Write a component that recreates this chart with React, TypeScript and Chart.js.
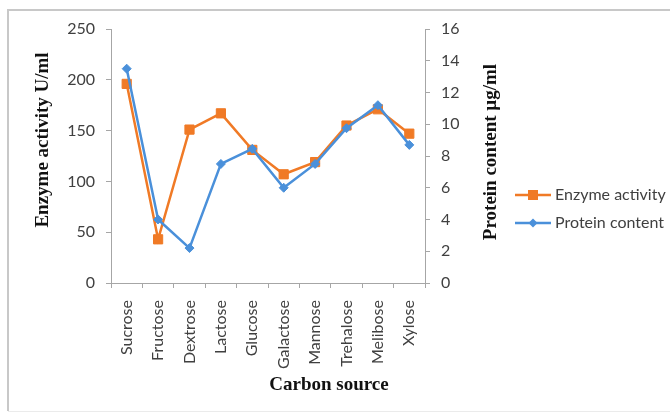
import React, { useEffect, useRef } from 'react';
import { Chart, registerables } from 'chart.js';

Chart.register(...registerables);

const categories = ['Sucrose', 'Fructose', 'Dextrose', 'Lactose', 'Glucose', 'Galactose', 'Mannose', 'Trehalose', 'Melibose', 'Xylose'];
const enzymeActivity = [196, 43, 151, 167, 131, 107, 119, 155, 171, 147];
const proteinContent = [13.5, 4.0, 2.2, 7.5, 8.45, 6.0, 7.5, 9.75, 11.2, 8.7];
const enzymeAxisMax = 250;
const enzymeAxisStep = 50;
const proteinAxisMax = 16;
const proteinAxisStep = 2;
const seriesNames = ['Enzyme activity', 'Protein content'];
const xTitle = 'Carbon source';
const yTitle = 'Enzyme activity U/ml';
const y1Title = 'Protein content µg/ml';

const ORANGE = '#F07A26';
const BLUE = '#4A90DA';
const AXIS = '#A6A6A6';
const TICK = '#404040';
const SANS = 'Lato, "Liberation Sans", sans-serif';
const SERIF = '"Liberation Serif", "DejaVu Serif", serif';

const decorPlugin = {
  id: 'decor',
  afterDraw(chart: any) {
    const ctx = chart.ctx as CanvasRenderingContext2D;
    const area = chart.chartArea;
    ctx.save();
    // outer frame
    ctx.strokeStyle = '#C8C8C8';
    ctx.lineWidth = 2;
    ctx.beginPath();
    ctx.moveTo(8, 411);
    ctx.lineTo(8, 10);
    ctx.lineTo(670, 10);
    ctx.stroke();
    ctx.strokeStyle = '#EBEBEB';
    ctx.lineWidth = 1;
    ctx.beginPath();
    ctx.moveTo(8, 411.5);
    ctx.lineTo(670, 411.5);
    ctx.stroke();

    // axis titles
    ctx.fillStyle = '#111';
    ctx.font = `bold 19px ${SERIF}`;
    ctx.textAlign = 'center';
    ctx.textBaseline = 'middle';
    ctx.fillText(xTitle, area.left + 218, area.bottom + 102);
    ctx.save();
    ctx.translate(area.left - 68, area.top + 111);
    ctx.rotate(-Math.PI / 2);
    ctx.fillText(yTitle, 0, 0);
    ctx.restore();
    ctx.save();
    ctx.translate(area.right + 66, area.top + 123);
    ctx.rotate(-Math.PI / 2);
    ctx.fillText(y1Title, 0, 0);
    ctx.restore();

    // legend
    const items = chart.data.datasets;
    const lx = 515;
    const ys = [195, 223];
    items.forEach((ds: any, i: number) => {
      const y = ys[i];
      ctx.strokeStyle = ds.borderColor;
      ctx.lineWidth = 2.5;
      ctx.beginPath();
      ctx.moveTo(lx, y);
      ctx.lineTo(lx + 36, y);
      ctx.stroke();
      ctx.fillStyle = ds.borderColor;
      const cx = lx + 18;
      if (ds.pointStyle === 'rect') {
        ctx.fillRect(cx - 5, y - 5, 10, 10);
      } else {
        ctx.beginPath();
        ctx.moveTo(cx - 4.5, y);
        ctx.lineTo(cx, y - 4.5);
        ctx.lineTo(cx + 4.5, y);
        ctx.lineTo(cx, y + 4.5);
        ctx.closePath();
        ctx.fill();
      }
      ctx.fillStyle = TICK;
      ctx.font = `16px ${SANS}`;
      ctx.textAlign = 'left';
      ctx.textBaseline = 'middle';
      ctx.fillText(ds.label, lx + 40, y);
    });
    ctx.restore();
  },
};

export default function App() {
  const ref = useRef<HTMLCanvasElement>(null);
  useEffect(() => {
    if (!ref.current) return;
    const tickFont = { family: SANS, size: 16 };
    const chart = new Chart(ref.current, {
      type: 'line',
      data: {
        labels: categories,
        datasets: [
          {
            label: seriesNames[0],
            data: enzymeActivity,
            yAxisID: 'y',
            borderColor: ORANGE,
            backgroundColor: ORANGE,
            borderWidth: 2.5,
            pointStyle: 'rect',
            pointRadius: 6.5,
            pointBorderWidth: 1,
            tension: 0,
            order: 1,
          },
          {
            label: seriesNames[1],
            data: proteinContent,
            yAxisID: 'y1',
            borderColor: BLUE,
            backgroundColor: BLUE,
            borderWidth: 2.5,
            pointStyle: 'rectRot',
            pointRadius: 4.5,
            pointBorderWidth: 1,
            tension: 0,
            order: 0,
          },
        ],
      },
      options: {
        responsive: false,
        animation: false,
        devicePixelRatio: 1,
        layout: { padding: { left: 0, right: 0, top: 29, bottom: 0 } },
        plugins: { legend: { display: false }, tooltip: { enabled: false } },
        scales: {
          x: {
            offset: true,
            grid: { offset: true, drawOnChartArea: false, tickLength: 5, color: AXIS },
            border: { color: AXIS },
            ticks: { minRotation: 90, maxRotation: 90, autoSkip: false, padding: 12, font: tickFont, color: TICK },
            afterFit: (s: any) => { s.height = 129; },
          },
          y: {
            position: 'left',
            min: 0,
            max: enzymeAxisMax,
            grid: { drawOnChartArea: false, tickLength: 5, color: AXIS },
            border: { color: AXIS },
            ticks: { stepSize: enzymeAxisStep, padding: 11, font: tickFont, color: TICK },
            afterFit: (s: any) => { s.width = 111; },
          },
          y1: {
            position: 'right',
            min: 0,
            max: proteinAxisMax,
            grid: { drawOnChartArea: false, tickLength: 5, color: AXIS },
            border: { color: AXIS },
            ticks: { stepSize: proteinAxisStep, padding: 11, font: tickFont, color: TICK },
            afterFit: (s: any) => { s.width = 245; },
          },
        },
      },
      plugins: [decorPlugin],
    } as any);
    return () => chart.destroy();
  }, []);
  return (
    <div style={{ position: 'absolute', left: 0, top: 0, width: 670, height: 412, background: '#fff' }}>
      <canvas ref={ref} width={670} height={412} style={{ display: 'block' }} />
    </div>
  );
}
